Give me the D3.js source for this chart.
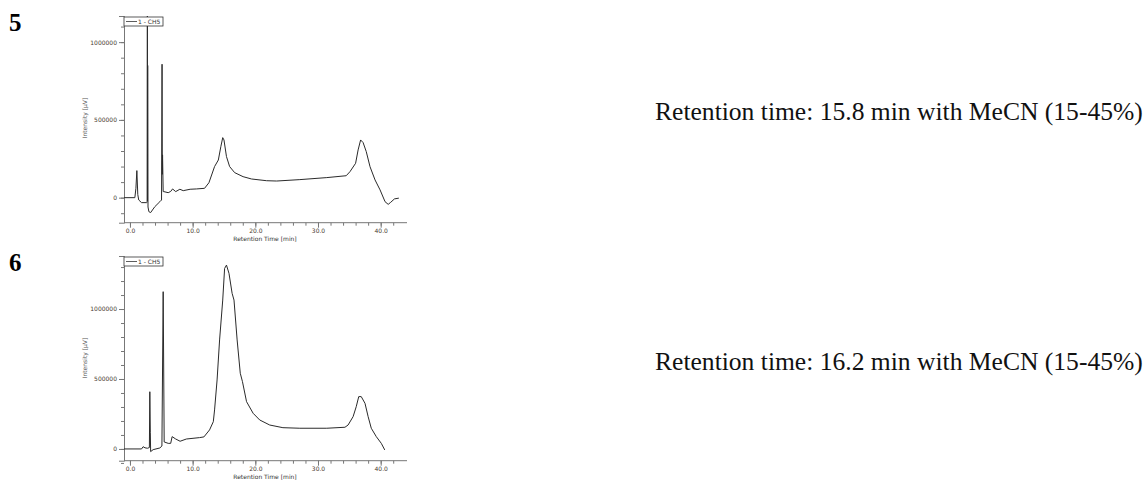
<!DOCTYPE html>
<html>
<head>
<meta charset="utf-8">
<script src="https://cdn.jsdelivr.net/npm/d3@7"></script>
<style>
  body { margin: 0; background: #fff; }
  svg { display: block; }
</style>
</head>
<body>
<svg id="fig" width="1146" height="482"></svg>
<script>
// Chromatogram 5 (retention time in min, intensity in µV)
const times5 = [-0.95, 0.78, 0.95, 1.1, 1.25, 1.4, 1.85, 2.65, 2.74, 2.78, 2.8, 2.83, 2.88, 3.02, 3.3, 3.97, 4.77, 5.04, 5.12, 5.16, 5.2, 5.3, 5.4, 6.1, 6.5, 6.8, 7.3, 7.96, 8.5, 9.6, 10.6, 11.9, 12.6, 13.5, 14.1, 14.5, 14.8, 15.0, 15.4, 15.9, 16.7, 18.05, 19.4, 21.8, 23.4, 27.1, 31.4, 34.5, 35.1, 36.0, 36.4, 36.8, 37.2, 37.7, 38.3, 39.1, 39.9, 40.7, 41.2, 41.6, 42.2, 42.9];
const values5 = [0, 0, 60000, 174000, 20000, -15000, -32000, -32000, -30000, 1300000, -20000, 850000, -60000, -90000, -96000, -58000, -26000, -15000, 858000, 150000, 275000, 39000, 39000, 32000, 40000, 56000, 39000, 54000, 45000, 54000, 56000, 60000, 96000, 200000, 242000, 328000, 386000, 371000, 264000, 200000, 161000, 135000, 120000, 109000, 107000, 116000, 129000, 141000, 167000, 221000, 307000, 371000, 354000, 296000, 199000, 114000, 50000, -26000, -43000, -30000, -8000, -3000];

// Chromatogram 6
const times6 = [-0.95, 1.85, 2.1, 2.4, 2.8, 3.1, 3.17, 3.25, 3.3, 3.7, 4.77, 5.1, 5.3, 5.46, 6.1, 6.5, 6.73, 7.3, 8.0, 9.0, 11.1, 11.8, 12.7, 13.3, 13.5, 13.9, 14.3, 14.8, 15.1, 15.4, 15.8, 16.3, 16.6, 17.1, 17.6, 17.95, 18.6, 19.65, 20.7, 22.3, 24.4, 27.1, 31.4, 34.3, 34.8, 35.6, 36.1, 36.5, 36.9, 37.5, 38.0, 38.5, 39.3, 40.1, 40.65];
const values6 = [0, 0, 16000, 8000, 5000, 10000, 409000, 120000, -19000, -5000, 7000, 21000, 1124000, 50000, 40000, 40000, 88000, 71000, 55000, 71000, 81000, 86000, 136000, 195000, 279000, 493000, 779000, 1064000, 1290000, 1314000, 1255000, 1112000, 1064000, 779000, 541000, 481000, 338000, 255000, 207000, 171000, 152000, 148000, 148000, 155000, 171000, 231000, 302000, 374000, 374000, 326000, 231000, 148000, 88000, 40000, -7000];

// Axis ticks
const xMajorTicks = [0, 10, 20, 30, 40];
const xMinorTicks = d3.range(0, 44, 2);
const yMajorTicks = [0, 500000, 1000000];
const legendLabel = "1 - CH5";
const notes = ["Retention time: 15.8 min with MeCN (15-45%)", "Retention time: 16.2 min with MeCN (15-45%)"];
const panelLabels = ["5", "6"];

const svg = d3.select("#fig");
const tickFont = "'DejaVu Sans', Verdana, sans-serif";

function drawChart(cfg) {
    const x = d3.scaleLinear().domain([-0.95, 44.2]).range([124, 407]);
    const y = d3.scaleLinear().domain(cfg.yDomain).range([cfg.bottom, cfg.top]);
    const g = svg.append("g");

    const clipId = "clip" + cfg.id;
    g.append("clipPath").attr("id", clipId)
        .append("rect")
        .attr("x", 124).attr("y", cfg.top)
        .attr("width", 283).attr("height", cfg.bottom - cfg.top);

    // minor y ticks every 100000
    const yMinor = d3.range(-100000, cfg.yDomain[1], 100000);
    g.append("g")
        .attr("transform", "translate(124,0)")
        .call(d3.axisLeft(y).tickValues(yMinor).tickSize(3).tickFormat(""))
        .call(a => a.select(".domain").remove())
        .selectAll("line").attr("stroke", "#777");

    // major y ticks
    const yAxis = g.append("g")
        .attr("transform", "translate(124,0)")
        .call(d3.axisLeft(y).tickValues(yMajorTicks).tickSize(5).tickPadding(2).tickFormat(d3.format("d")));
    yAxis.select(".domain").attr("stroke", "#777");
    yAxis.selectAll("line").attr("stroke", "#777");
    yAxis.selectAll("text").attr("font-family", tickFont).attr("font-size", 6).attr("fill", "#4a3b30");

    // x axis
    const xMinorAxis = g.append("g")
        .attr("transform", `translate(0,${cfg.bottom})`)
        .call(d3.axisBottom(x).tickValues(xMinorTicks).tickSize(3).tickFormat(""));
    xMinorAxis.select(".domain").remove();
    xMinorAxis.selectAll("line").attr("stroke", "#777");

    const xAxis = g.append("g")
        .attr("transform", `translate(0,${cfg.bottom})`)
        .call(d3.axisBottom(x).tickValues(xMajorTicks).tickSize(5).tickPadding(1).tickFormat(d3.format(".1f")));
    xAxis.select(".domain").attr("stroke", "#777").attr("d", `M124,0H407`);
    xAxis.selectAll("line").attr("stroke", "#777");
    xAxis.selectAll("text").attr("font-family", tickFont).attr("font-size", 6).attr("fill", "#4a3b30");

    // axis titles
    g.append("text")
        .attr("x", 265).attr("y", cfg.bottom + 18)
        .attr("text-anchor", "middle")
        .attr("font-family", tickFont).attr("font-size", 6).attr("fill", "#333")
        .text("Retention Time [min]");
    g.append("text")
        .attr("transform", `translate(87,${cfg.yTitle}) rotate(-90)`)
        .attr("text-anchor", "middle")
        .attr("font-family", tickFont).attr("font-size", 6).attr("fill", "#555")
        .text("Intensity [µV]");

    // trace
    const pts = cfg.times.map((t, i) => [t, cfg.values[i]]);
    const line = d3.line().x(d => x(d[0])).y(d => y(d[1]));
    g.append("path")
        .datum(pts)
        .attr("clip-path", `url(#${clipId})`)
        .attr("fill", "none")
        .attr("stroke", "#2a2a2a")
        .attr("stroke-width", 1)
        .attr("d", line);

    // legend
    const lg = g.append("g").attr("transform", `translate(124,${cfg.top + 1})`);
    lg.append("rect").attr("x", 0).attr("y", 0).attr("width", 39).attr("height", 9)
        .attr("fill", "#fff").attr("stroke", "#333").attr("stroke-width", 0.8);
    lg.append("line").attr("x1", 2).attr("x2", 13).attr("y1", 4.5).attr("y2", 4.5)
        .attr("stroke", "#333").attr("stroke-width", 0.8);
    lg.append("text").attr("x", 14).attr("y", 6.7)
        .attr("font-family", tickFont).attr("font-size", 6).attr("fill", "#333")
        .text(legendLabel);

    // panel number
    svg.append("text")
        .attr("x", 9).attr("y", cfg.labelY)
        .attr("font-family", "'Liberation Serif', 'Times New Roman', serif")
        .attr("font-weight", "bold").attr("font-size", 25)
        .text(cfg.label);

    // note on the right
    const note = svg.append("text")
        .attr("x", 655).attr("y", cfg.noteY)
        .attr("font-family", "'Liberation Serif', 'Times New Roman', serif")
        .attr("font-size", 20).attr("fill", "#111")
        .text(cfg.note);
    const w = note.node().getComputedTextLength();
    note.attr("font-size", 20 * 488 / w);
}

drawChart({id: 5, label: panelLabels[0], top: 16, bottom: 222.7, yDomain: [-161000, 1168000],
    times: times5, values: values5, note: notes[0], noteY: 120, labelY: 31, yTitle: 118});
drawChart({id: 6, label: panelLabels[1], top: 256, bottom: 460.7, yDomain: [-84000, 1379000],
    times: times6, values: values6, note: notes[1], noteY: 370, labelY: 271, yTitle: 358});
</script>
</body>
</html>
